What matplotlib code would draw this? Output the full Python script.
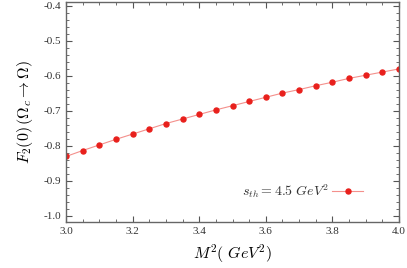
import numpy as np
import matplotlib
matplotlib.use("Agg")
import matplotlib.pyplot as plt
from matplotlib.ticker import MultipleLocator

plt.rcParams['mathtext.fontset'] = 'cm'
plt.rcParams['font.family'] = 'serif'
plt.rcParams['font.serif'] = ['Liberation Serif', 'DejaVu Serif']

# Borel mass M^2 (GeV^2) and form factor F2(0) values
m2 = [3.00, 3.05, 3.10, 3.15, 3.20, 3.25, 3.30, 3.35, 3.40, 3.45, 3.50,
      3.55, 3.60, 3.65, 3.70, 3.75, 3.80, 3.85, 3.90, 3.95, 4.00]
f2 = [-0.831, -0.814, -0.798, -0.782, -0.767, -0.752, -0.737, -0.724,
      -0.711, -0.698, -0.686, -0.674, -0.662, -0.650, -0.640, -0.629,
      -0.619, -0.608, -0.599, -0.590, -0.581]
xticks = [3.0, 3.2, 3.4, 3.6, 3.8, 4.0]
yticks = [-1.0, -0.9, -0.8, -0.7, -0.6, -0.5, -0.4]

fig = plt.figure(figsize=(4.07, 2.68), dpi=100)
ax = fig.add_axes([66 / 407, 46 / 268, 333 / 407, 220 / 268])

ax.plot(m2, f2, color='#f4908c', lw=0.8, marker='o', ms=3.6,
        mfc='#e8201c', mec='#e8201c', label=r'$s_{th} = 4.5\ GeV^2$')

ax.set_xlim(3.0, 4.0)
ax.set_ylim(-1.018, -0.39)
ax.set_xticks(xticks)
ax.set_xticklabels([f'{v:.1f}' for v in xticks])
ax.set_yticks(yticks)
ax.set_yticklabels([f'{v:.1f}' for v in yticks])
ax.xaxis.set_minor_locator(MultipleLocator(0.05))
ax.yaxis.set_minor_locator(MultipleLocator(0.02))
ax.tick_params(which='both', direction='in', top=True, right=True,
               color='#555555', labelsize=8, labelcolor='#333333')
ax.tick_params(which='major', length=4, width=0.8)
ax.tick_params(which='minor', length=2, width=0.6)
for s in ax.spines.values():
    s.set_color('#666666')
    s.set_linewidth(1.0)

ax.set_xlabel(r'$M^2(\ GeV^2)$', fontsize=11.5, labelpad=5)
ax.set_ylabel(r'$F_2(0)\,(\Omega_c \rightarrow \Omega)$', fontsize=11.5, labelpad=6)

leg = ax.legend(loc='center right', frameon=False, fontsize=10,
                bbox_to_anchor=(0.892, 0.141), borderpad=0, borderaxespad=0,
                handlelength=2.2, handletextpad=0.25, markerfirst=False)
for t in leg.get_texts():
    t.set_color('#333333')

fig.savefig('out.png', dpi=100)
